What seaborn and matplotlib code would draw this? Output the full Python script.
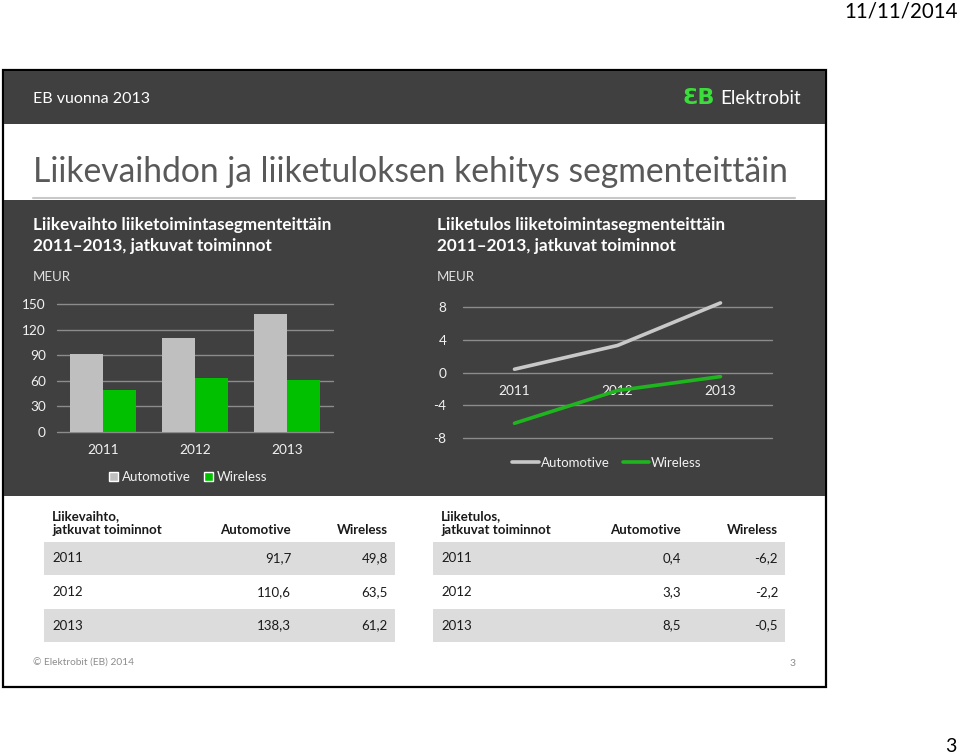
import pandas as pd
import numpy as np
import matplotlib.pyplot as plt
import seaborn as sns
from matplotlib.patches import Rectangle, Patch
from matplotlib.lines import Line2D

years = ['2011', '2012', '2013']
segments = ['Automotive', 'Wireless']
rev_automotive = [91.7, 110.6, 138.3]
rev_wireless = [49.8, 63.5, 61.2]
ebit_automotive = [0.4, 3.3, 8.5]
ebit_wireless = [-6.2, -2.2, -0.5]
rev_ticks = [0, 30, 60, 90, 120, 150]
ebit_ticks = [-8, -4, 0, 4, 8]

DARK = '#404040'
GRAY_BAR = '#bfbfbf'
GREEN = '#00c000'
LIGHT = '#f2f2f2'

sns.set_theme(style='white')
plt.rcParams['font.family'] = ['Lato', 'DejaVu Sans']
plt.rcParams['axes.unicode_minus'] = False

fig = plt.figure(figsize=(9.6, 7.56), dpi=100)
fig.patch.set_facecolor('white')

# background canvas in pixel coordinates
bg = fig.add_axes([0, 0, 1, 1])
bg.set_xlim(0, 960)
bg.set_ylim(756, 0)
bg.axis('off')

bg.add_patch(Rectangle((3, 70), 823, 617, facecolor='white', edgecolor='black', lw=1.6))
bg.add_patch(Rectangle((4, 71), 821, 53, facecolor=DARK, edgecolor='none'))
bg.add_patch(Rectangle((4, 200), 821, 296, facecolor=DARK, edgecolor='none'))
bg.plot([33, 795], [198, 198], color='#c8c8c8', lw=1.5)

bg.text(958, 11, '11/11/2014', ha='right', va='center', fontsize=14.8, color='black')
bg.text(33, 99, 'EB vuonna 2013', ha='left', va='center', fontsize=11.5, color='white')
bg.text(715, 98, 'ƐB', ha='right', va='center', fontsize=16, fontweight='bold',
        color='#3ddc3d', family=['DejaVu Sans'])
bg.text(720, 98, 'Elektrobit', ha='left', va='center', fontsize=13.5, color='white')
bg.text(33, 172, 'Liikevaihdon ja liiketuloksen kehitys segmenteittäin',
        ha='left', va='center', fontsize=24.2, color='#595959')

for x0, name in [(33, 'Liikevaihto liiketoimintasegmenteittäin'),
                 (437, 'Liiketulos liiketoimintasegmenteittäin')]:
    bg.text(x0, 225, name, ha='left', va='center', fontsize=12.3, fontweight='bold', color='white')
    bg.text(x0, 246, '2011\u20132013, jatkuvat toiminnot', ha='left', va='center',
            fontsize=12.3, fontweight='bold', color='white')
    bg.text(x0, 277, 'MEUR', ha='left', va='center', fontsize=9.5, color='#e0e0e0')

# bar chart: revenue
df_rev = pd.DataFrame({
    'Vuosi': years * 2,
    'Segmentti': [segments[0]] * 3 + [segments[1]] * 3,
    'MEUR': rev_automotive + rev_wireless,
})
ax1 = fig.add_axes([57 / 960, (756 - 432) / 756, 276 / 960, 128 / 756])
ax1.set_facecolor('none')
sns.barplot(data=df_rev, x='Vuosi', y='MEUR', hue='Segmentti', palette=[GRAY_BAR, GREEN],
            width=0.72, saturation=1, linewidth=0, ax=ax1, legend=False)
ax1.set_xlim(-0.5, 2.5)
ax1.set_ylim(0, 150)
ax1.set_yticks(rev_ticks)
ax1.yaxis.grid(True, color='#8c8c8c', lw=1)
ax1.set_axisbelow(True)
ax1.set_xlabel('')
ax1.set_ylabel('')
for s in ax1.spines.values():
    s.set_visible(False)
ax1.tick_params(axis='y', length=0, pad=8, labelsize=9.8, labelcolor=LIGHT)
ax1.tick_params(axis='x', length=0, pad=9, labelsize=9.8, labelcolor=LIGHT)
fig.legend(handles=[Patch(facecolor=GRAY_BAR), Patch(facecolor=GREEN)], labels=segments,
           loc='center', bbox_to_anchor=(188 / 960, 1 - 477 / 756), ncol=2, frameon=False,
           handlelength=0.7, handleheight=0.7, handletextpad=0.3, columnspacing=1.0,
           fontsize=9.5, labelcolor=LIGHT)

# line chart: operating result
df_ebit = pd.DataFrame({
    'Vuosi': years * 2,
    'Segmentti': [segments[0]] * 3 + [segments[1]] * 3,
    'MEUR': ebit_automotive + ebit_wireless,
})
ax2 = fig.add_axes([463 / 960, (756 - 438) / 756, 309 / 960, 131 / 756])
ax2.set_facecolor('none')
sns.lineplot(data=df_ebit, x='Vuosi', y='MEUR', hue='Segmentti',
             palette=['#c8c8c8', '#1fb51f'], lw=2.6, ax=ax2, legend=False, sort=False)
for ln in ax2.lines:
    ln.set_clip_on(False)
ax2.set_xlim(-0.5, 2.5)
ax2.set_ylim(-8, 8)
ax2.set_yticks(ebit_ticks)
ax2.yaxis.grid(True, color='#8c8c8c', lw=1)
ax2.set_axisbelow(True)
ax2.set_xlabel('')
ax2.set_ylabel('')
for s in ax2.spines.values():
    s.set_visible(False)
ax2.spines['bottom'].set_position(('data', 0))
ax2.tick_params(axis='y', length=0, pad=12, labelsize=9.8, labelcolor=LIGHT)
ax2.tick_params(axis='x', length=0, pad=9, labelsize=9.8, labelcolor=LIGHT)
fig.legend(handles=[Line2D([], [], color='#c8c8c8', lw=2.6), Line2D([], [], color='#1fb51f', lw=2.6)],
           labels=segments, loc='center', bbox_to_anchor=(607 / 960, 1 - 463 / 756), ncol=2,
           frameon=False, handlelength=2.0, handletextpad=0.15, columnspacing=1.0,
           fontsize=9.5, labelcolor=LIGHT)

for ax in (ax1, ax2):
    for gl in ax.yaxis.get_gridlines():
        gl.set_clip_on(False)

# tables
def fmt(v):
    return f'{v:.1f}'.replace('.', ',')

def draw_table(x0, x1, title, col_auto, col_wire):
    kw = dict(va='center', fontsize=9.5, color='#1a1a1a')
    bg.text(x0 + 8, 516, title[0], ha='left', fontweight='bold', **kw)
    bg.text(x0 + 8, 530, title[1], ha='left', fontweight='bold', **kw)
    bg.text(x1 - 104, 530, segments[0], ha='right', fontweight='bold', **kw)
    bg.text(x1 - 7, 530, segments[1], ha='right', fontweight='bold', **kw)
    for i, yr in enumerate(years):
        yc = 558.5 + i * 33.5
        if i % 2 == 0:
            bg.add_patch(Rectangle((x0, yc - 16.75), x1 - x0, 33.5, facecolor='#dcdcdc', edgecolor='none'))
        bg.text(x0 + 8, yc, yr, ha='left', **kw)
        bg.text(x1 - 104, yc, fmt(col_auto[i]), ha='right', **kw)
        bg.text(x1 - 7, yc, fmt(col_wire[i]), ha='right', **kw)

draw_table(44, 395, ['Liikevaihto,', 'jatkuvat toiminnot'], rev_automotive, rev_wireless)
draw_table(433, 785, ['Liiketulos,', 'jatkuvat toiminnot'], ebit_automotive, ebit_wireless)

bg.text(33, 663, '\u00a9 Elektrobit (EB) 2014', ha='left', va='center', fontsize=7.3, color='#8c8c8c')
bg.text(796, 663, '3', ha='right', va='center', fontsize=7.5, color='#8c8c8c')
bg.text(957, 747, '3', ha='right', va='center', fontsize=14, color='black')

fig.savefig('out.png', dpi=100, facecolor=fig.get_facecolor())
